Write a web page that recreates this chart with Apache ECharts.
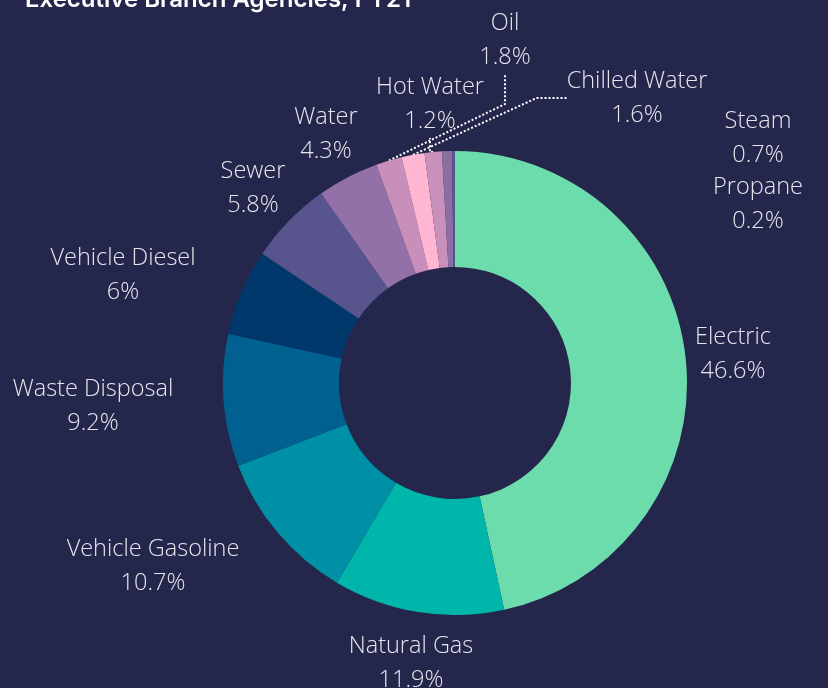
<!DOCTYPE html>
<html>
<head>
<meta charset="utf-8">
<script src="https://cdn.jsdelivr.net/npm/echarts@6/dist/echarts.min.js"></script>
<style>
html, body { margin: 0; padding: 0; background: #24264b; }
#main { width: 828px; height: 688px; }
</style>
</head>
<body>
<div id="main"></div>
<script>
// energy use by source, percent of total
var categories = ['Electric', 'Natural Gas', 'Vehicle Gasoline', 'Waste Disposal', 'Vehicle Diesel',
	'Sewer', 'Water', 'Oil', 'Chilled Water', 'Hot Water', 'Steam', 'Propane'];
var shares = [46.6, 11.9, 10.7, 9.2, 6, 5.8, 4.3, 1.8, 1.6, 1.2, 0.7, 0.2];
var colors = ['#6ddcac', '#00b5a9', '#0090a6', '#00608f', '#00386c', '#58548e',
	'#9270a8', '#c88fbb', '#ffb6d3', '#c990bb', '#8a6fa0', '#5b5590'];

// where each label block sits (centre of the two lines)
var labelAt = [[733, 354], [411, 663], [153, 566], [93, 406], [123, 275], [253, 188],
	[326, 134], [505, 40], [637, 98], [430, 104], [758, 138], [758, 204]];
var dotted = { 'Oil': true, 'Chilled Water': true, 'Hot Water': true };

var chart = echarts.init(document.getElementById('main'));

var data = categories.map(function (name, i) {
	return {
		name: name,
		value: shares[i],
		itemStyle: { color: colors[i] },
		labelLine: {
			show: !!dotted[name],
			lineStyle: { color: '#ffffff', type: [2, 2], width: 2 }
		}
	};
});

var option = {
	backgroundColor: '#24264b',
	title: {
		text: 'Executive Branch Agencies, FY21',
		left: 20,
		top: -17,
		textStyle: {
			color: '#ffffff',
			fontFamily: 'Inter',
			fontWeight: 600,
			fontSize: 24
		}
	},
	series: [{
		type: 'pie',
		center: [455, 383],
		radius: [116, 232],
		startAngle: 90,
		clockwise: true,
		avoidLabelOverlap: false,
		emphasis: { disabled: true },
		label: {
			show: true,
			position: 'outside',
			formatter: '{b}\n{c}%',
			color: '#e6e6ee',
			fontFamily: 'Open Sans',
			fontWeight: 300,
			fontSize: 23.5,
			lineHeight: 34
		},
		labelLayout: function (p) {
			var pos = labelAt[p.dataIndex];
			return { x: pos[0], y: pos[1], align: 'center', verticalAlign: 'middle' };
		},
		data: data
	}]
};
chart.setOption(option);
</script>
</body>
</html>
